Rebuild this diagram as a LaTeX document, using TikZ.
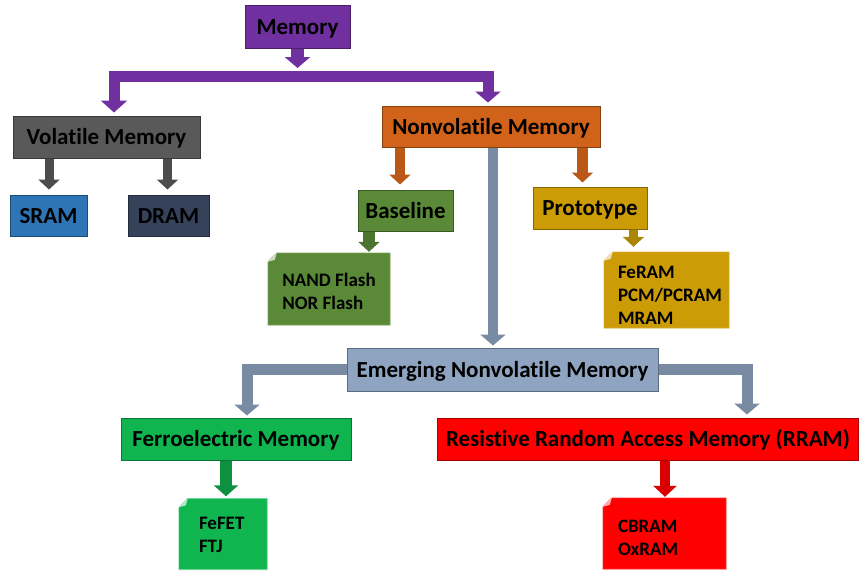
\documentclass[tikz,border=0pt]{standalone}
\usepackage{fontspec}
\setmainfont{Carlito}[Ligatures=NoCommon]
\usetikzlibrary{arrows.meta,backgrounds}

\definecolor{memPurple}{HTML}{7030A0}
\definecolor{volGray}{HTML}{595959}
\definecolor{sramBlue}{HTML}{2E75B6}
\definecolor{dramSlate}{HTML}{36425A}
\definecolor{nvOrange}{HTML}{D0621A}
\definecolor{baseGreen}{HTML}{5A8A38}
\definecolor{protoGold}{HTML}{CC9C06}
\definecolor{emSlate}{HTML}{8EA4C0}
\definecolor{feGreen}{HTML}{10B550}
\definecolor{rrRed}{HTML}{FF0000}

% folded corner behind a note node
\newcommand{\dogear}[2]{%
  \begin{scope}[on background layer]
    \filldraw[fill=#2,draw=#2!55!white,line width=0.6pt] ([yshift=-9pt]#1.north west) -- ([xshift=9pt]#1.north west) -- (#1.north east) -- (#1.south east) -- (#1.south west) -- cycle;
    \fill[#2!30!white] ([yshift=-9pt]#1.north west) -- ([xshift=9pt]#1.north west) -- ([shift={(7pt,-7pt)}]#1.north west) -- cycle;
  \end{scope}}

\begin{document}
\begin{tikzpicture}[x=1pt,y=-1pt,
  box/.style={draw=#1!65!black,fill=#1,line width=1pt,inner sep=0pt,text height=15pt,text depth=0pt,font=\fontsize{23}{27}\selectfont\bfseries},
  note/.style={inner xsep=14pt,inner ysep=0pt,align=left,font=\fontsize{19}{23}\selectfont\bfseries},
  conn/.style={draw=#1,line width=11pt,-{Triangle[width=25pt,length=11pt]}},
  slim/.style={line width=9pt,-{Triangle[width=21pt,length=10pt]}}]
\useasboundingbox (0,0) rectangle (860,571);
% boxes
\node[box=memPurple,minimum width=105pt,minimum height=43pt] (mem) at (297.5,26.5) {Memory};
\node[box=volGray,minimum width=187pt,minimum height=42pt] (vol) at (106.5,137) {Volatile Memory};
\node[box=sramBlue,minimum width=77pt,minimum height=41pt] (sram) at (48.5,215.5) {SRAM};
\node[box=dramSlate,minimum width=81pt,minimum height=41pt] (dram) at (168.5,215.5) {DRAM};
\node[box=nvOrange,minimum width=218pt,minimum height=41pt] (nonvol) at (491,126.5) {Nonvolatile Memory};
\node[box=baseGreen,minimum width=95pt,minimum height=41pt] (base) at (405.5,210.5) {Baseline};
\node[box=protoGold,minimum width=114pt,minimum height=42pt] (proto) at (590,208) {Prototype};
\node[box=emSlate,minimum width=311pt,minimum height=43pt] (emerg) at (502.5,369.5) {Emerging Nonvolatile Memory};
\node[box=feGreen,minimum width=230pt,minimum height=42pt] (ferro) at (236,439) {Ferroelectric Memory};
\node[box=rrRed,minimum width=421pt,minimum height=42pt] (rram) at (648,439) {Resistive Random Access Memory (RRAM)};
% notes
\node[note,minimum width=122pt,text height=40pt,text depth=0pt,minimum height=72pt] (nand) at (329,289) {NAND Flash\\NOR Flash};
\node[note,text width=97pt,text height=12pt,text depth=36pt,minimum height=76pt] (protolist) at (666.5,290) {FeRAM\\PCM/PCRAM\\MRAM};
\node[note,inner xsep=20pt,text width=48pt,text height=12pt,text depth=22pt,minimum height=71pt] (ferrolist) at (223,534) {FeFET\\FTJ};
\node[note,inner xsep=15pt,text width=93pt,text height=12pt,text depth=15pt,minimum height=71pt] (rramlist) at (664.5,533.5) {CBRAM\\OxRAM};
\dogear{nand}{baseGreen}
\dogear{protolist}{protoGold}
\dogear{ferrolist}{feGreen}
\dogear{rramlist}{rrRed}
% connectors
\coordinate (split) at (297.5,76.5);
\draw[conn=memPurple,line width=13pt,shorten >=8.5pt] (mem.south) -- (split);
\draw[conn=memPurple,{Triangle[width=26pt,length=12pt]}-{Triangle[width=25pt,length=11pt]},shorten <=3pt,shorten >=3pt] (114,0 |- vol.north) |- (split) -| (488,0 |- nonvol.north);
\draw[conn=volGray!85!black,slim,shorten >=5pt] (49,0 |- vol.south) -- (49,0 |- sram.north);
\draw[conn=volGray!85!black,slim,shorten >=5pt] (167.5,0 |- vol.south) -- (167.5,0 |- dram.north);
\draw[conn=nvOrange!90!black,slim,line width=10pt,shorten >=5pt] (400,0 |- nonvol.south) -- (400,0 |- base.north);
\draw[conn=nvOrange!90!black,slim,line width=11pt,shorten >=4pt] (582.5,0 |- nonvol.south) -- (582.5,0 |- proto.north);
\draw[conn=emSlate!85!black,line width=10pt,shorten >=2pt] (493,0 |- nonvol.south) -- (493,0 |- emerg.north);
\draw[conn=baseGreen!85!black,slim,line width=12pt,shorten >=1pt] (369,0 |- base.south) -- (369,0 |- nand.north);
\draw[conn=protoGold!85!black,slim,shorten >=5pt] (633.5,0 |- proto.south) -- (633.5,0 |- protolist.north);
\draw[conn=emSlate!85!black,shorten >=2pt] (emerg.west) -| (247,0 |- ferro.north);
\draw[conn=emSlate!85!black,shorten >=3pt] (emerg.east) -| (747,0 |- rram.north);
\draw[conn=feGreen!80!black,line width=12pt,-{Triangle[width=24pt,length=11pt]},shorten >=2pt] (226,0 |- ferro.south) -- (226,0 |- ferrolist.north);
\draw[conn=rrRed!85!black,line width=10pt,-{Triangle[width=23pt,length=11pt]},shorten >=1pt] (665,0 |- rram.south) -- (665,0 |- rramlist.north);
\end{tikzpicture}
\end{document}
